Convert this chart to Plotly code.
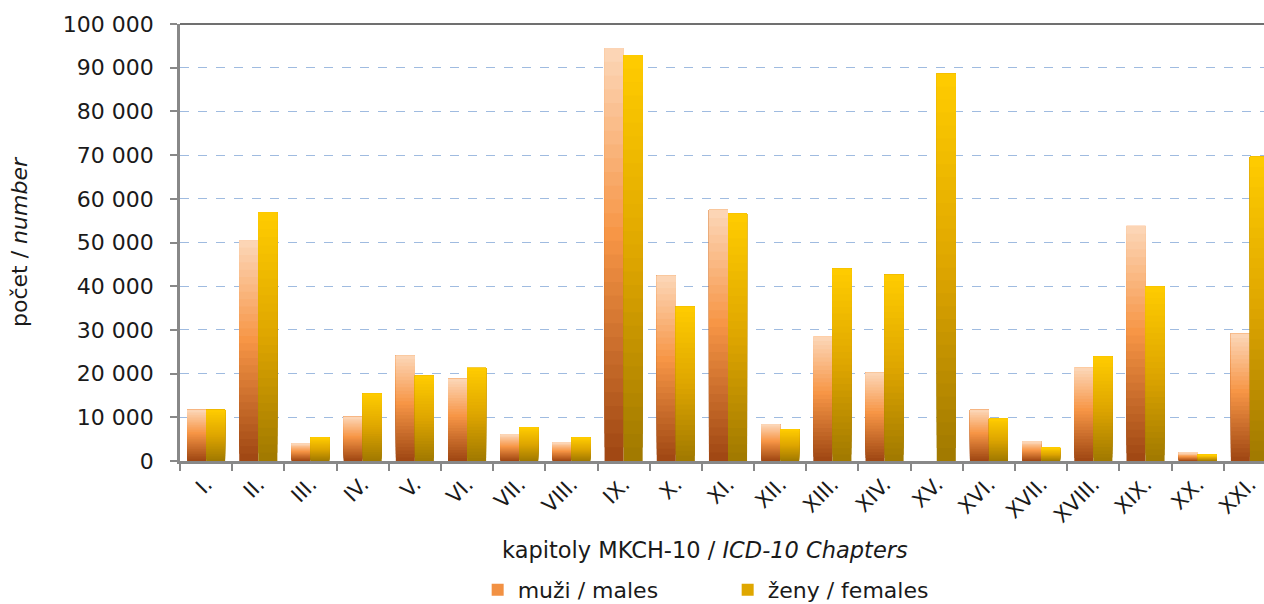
import plotly.graph_objects as go

chapters = ["I.", "II.", "III.", "IV.", "V.", "VI.", "VII.", "VIII.", "IX.", "X.", "XI.",
            "XII.", "XIII.", "XIV.", "XV.", "XVI.", "XVII.", "XVIII.", "XIX.", "XX.", "XXI."]
males = [11700, 50500, 4000, 10100, 24100, 18800, 6000, 4200, 94500, 42400, 57500,
         8300, 28400, 20200, 0, 11700, 4400, 21300, 53800, 1900, 29100]
females = [11700, 56900, 5300, 15400, 19500, 21300, 7600, 5300, 92900, 35300, 56600,
           7200, 44000, 42600, 88600, 9700, 3000, 23900, 39900, 1400, 69600]

male_stops = [(0.0, (158, 70, 18)), (0.55, (247, 150, 70)), (1.0, (252, 215, 185))]
female_stops = [(0.0, (160, 120, 0)), (0.5, (222, 166, 0)), (1.0, (255, 204, 0))]

N = 30
FONT = "DejaVu Sans"


def interp(stops, t):
    for (t0, c0), (t1, c1) in zip(stops[:-1], stops[1:]):
        if t <= t1:
            f = (t - t0) / (t1 - t0) if t1 > t0 else 0
            return "rgb(%d,%d,%d)" % tuple(round(a + (b - a) * f) for a, b in zip(c0, c1))
    return "rgb(%d,%d,%d)" % stops[-1][1]


fig = go.Figure()
for name, vals, stops, grp, rank in [("muži / males", males, male_stops, "m", 1),
                                      ("ženy / females", females, female_stops, "f", 2)]:
    for k in range(N):
        t = (k + 0.5) / N
        fig.add_trace(go.Bar(
            x=chapters,
            y=[v * (N - k) / N for v in vals],
            base=[v * k / N for v in vals],
            offsetgroup=grp,
            legendgroup=grp,
            name=name,
            showlegend=(k == N // 2),
            legendrank=rank,
            marker=dict(color=interp(stops, t), line=dict(width=0)),
            hoverinfo="skip",
        ))

fig.update_layout(
    width=1264, height=604,
    margin=dict(l=180, r=0, t=24, b=143, autoexpand=False),
    paper_bgcolor="white", plot_bgcolor="white",
    barmode="group", bargap=0.27, bargroupgap=0,
    separators=", ",
    font=dict(family=FONT, size=22, color="#1a1a1a"),
    showlegend=True,
    legend=dict(orientation="h", x=0.2746, xanchor="left", y=-0.295, yanchor="middle",
                entrywidth=205, font=dict(size=22), itemwidth=30, tracegroupgap=0),
    shapes=[dict(type="line", xref="paper", yref="paper", x0=0, x1=1, y0=1, y1=1,
                 line=dict(color="#404040", width=1.5))],
    annotations=[dict(text="kapitoly MKCH-10 / <i>ICD-10 Chapters</i>", xref="paper", yref="paper",
                      x=0.4843, y=-0.2037, xanchor="center", yanchor="middle", showarrow=False,
                      font=dict(size=22.5))],
)
fig.update_yaxes(
    automargin=False,
    range=[0, 100000], dtick=10000, tickformat=",d",
    showgrid=True, gridcolor="#9fbbe0", griddash="dash", gridwidth=1,
    zeroline=False, showline=True, linecolor="#888888", linewidth=2.5,
    ticks="outside", ticklen=7, tickcolor="#888888", tickwidth=2,
    ticklabelstandoff=12,
    tickfont=dict(size=22),
    title=dict(text="počet / <i>number</i>", font=dict(size=22), standoff=30),
)
fig.update_xaxes(
    automargin=False,
    range=[-0.5, 20.27],
    showline=True, linecolor="#888888", linewidth=2.5,
    ticks="outside", ticklen=7, tickcolor="#888888", tickwidth=2, tickson="boundaries",
    tickangle=-45, tickfont=dict(size=21),
)

fig.write_html("out.html", config={"displayModeBar": False},
               post_script="document.body.style.margin='0px';document.body.style.overflow='hidden';")
